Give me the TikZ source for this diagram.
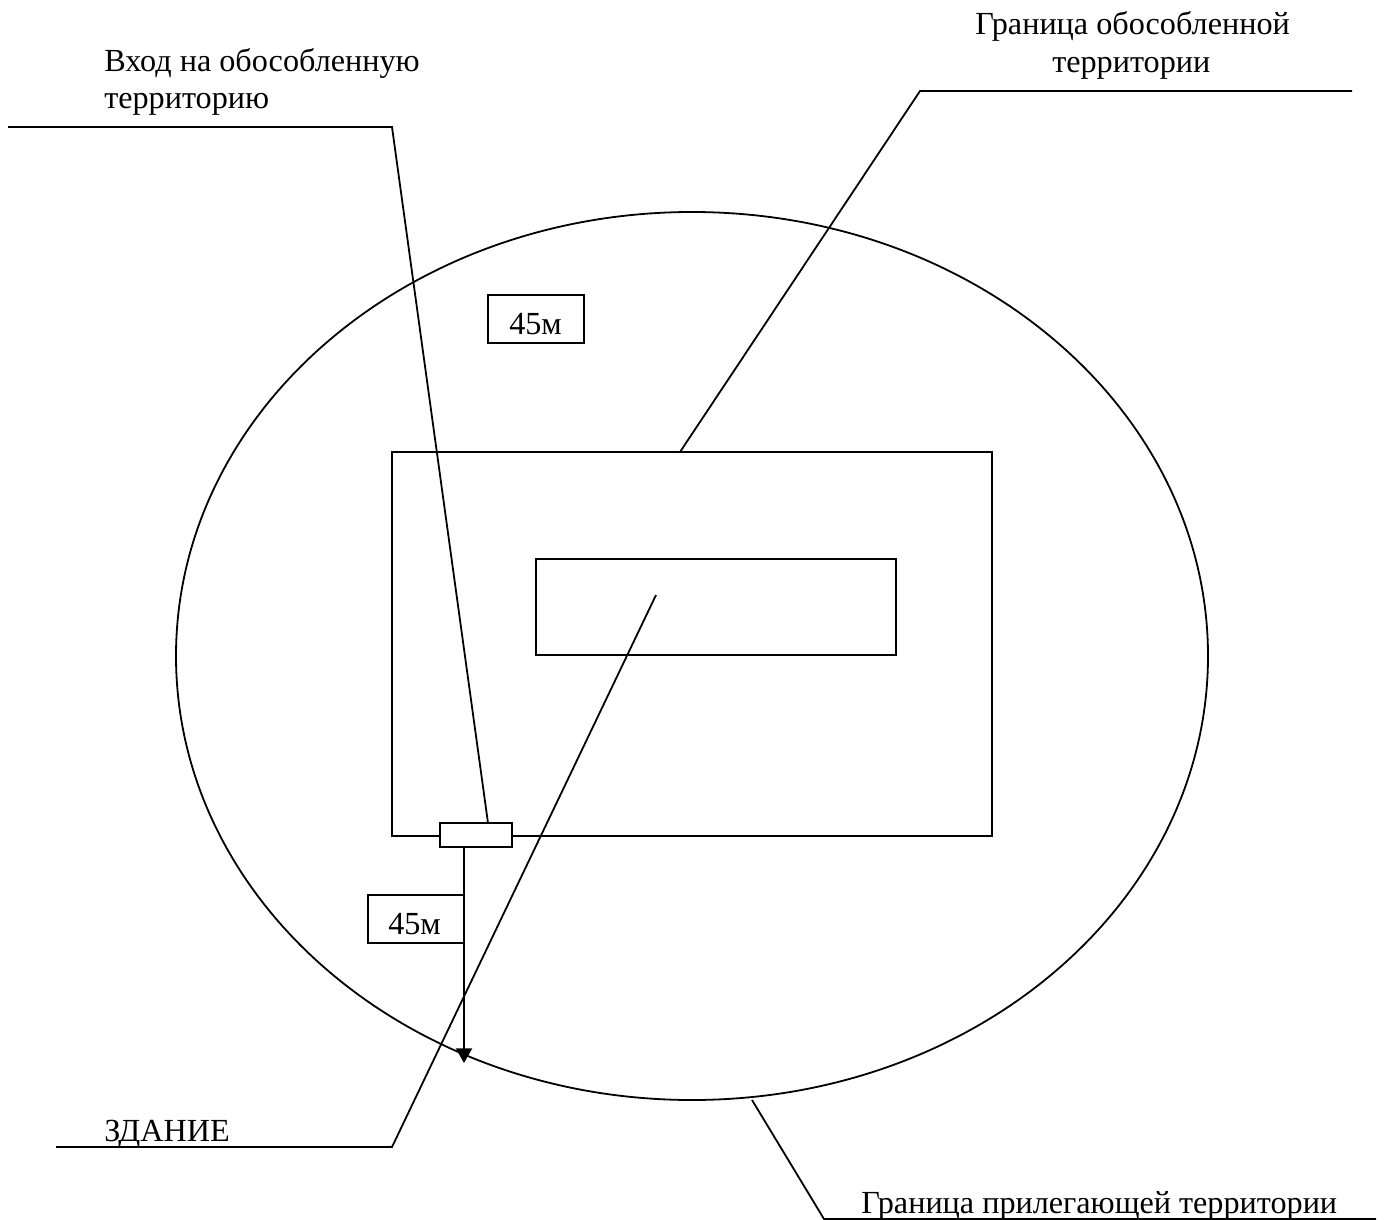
\documentclass[tikz,border=0pt]{standalone}
\usepackage{fontspec}
\setmainfont{Liberation Serif}
\usetikzlibrary{arrows.meta,shapes.geometric}
\tikzset{
  x=0.75pt,y=-0.75pt,
  ln/.style={draw=black,line width=1.35pt},
  lbl/.style={inner sep=0pt,font=\fontsize{24.15pt}{30pt}\selectfont,text=black},
  boxx/.style={draw=black,line width=1.5pt,fill=white,inner sep=0pt,rectangle},
}
\begin{document}
\begin{tikzpicture}
\useasboundingbox (0,0) rectangle (1385,1220);
\node[ln,ellipse,minimum width=1032*0.75pt,minimum height=888*0.75pt,inner sep=0pt] (circ) at (692,656) {};
\node[boxx,fill=none,minimum width=600*0.75pt,minimum height=384*0.75pt] (terr) at (692,644) {};
\node[boxx,fill=none,minimum width=360*0.75pt,minimum height=96*0.75pt] (bld) at (716,607) {};
\coordinate (a1) at (8,127); \coordinate (a2) at (392,127); \coordinate (a3) at (488,823);
\draw[ln] (a1)--(a2)--(a3);
\coordinate (b1) at (1352,91); \coordinate (b2) at (920,91); \coordinate (b3) at (680,452);
\draw[ln] (b1)--(b2)--(b3);
\coordinate (c1) at (56,1147); \coordinate (c2) at (392,1147); \coordinate (c3) at (656,595);
\draw[ln] (c1)--(c2)--(c3);
\coordinate (d1) at (752,1100); \coordinate (d2) at (824,1219); \coordinate (d3) at (1376,1219);
\draw[ln] (d1)--(d2)--(d3);
\node[boxx,minimum width=72*0.75pt,minimum height=24*0.75pt] (gate) at (476,835) {};
\coordinate (arr) at (464,1063);
\draw[boxx,-{Triangle[length=11pt,width=12pt]}] (gate.south -| arr) -- (arr);
\node[boxx,minimum width=96*0.75pt,minimum height=48*0.75pt] (m1) at (536,319) {};
\node[lbl,anchor=base west] at (509,334) {45м};
\node[boxx,minimum width=96*0.75pt,minimum height=48*0.75pt] (m2) at (416,919) {};
\node[lbl,anchor=base west] at (388,934) {45м};
\node[lbl,anchor=base west] at (104,72) {Вход на обособленную};
\node[lbl,anchor=base west] at (104,109) {территорию};
\node[lbl,anchor=base west] at (975,35) {Граница обособленной};
\node[lbl,anchor=base west] at (1052,73) {территории};
\node[lbl,anchor=base west] at (104,1141) {ЗДАНИЕ};
\node[lbl,anchor=base west] at (861,1213) {Граница прилегающей территории};
\end{tikzpicture}
\end{document}
